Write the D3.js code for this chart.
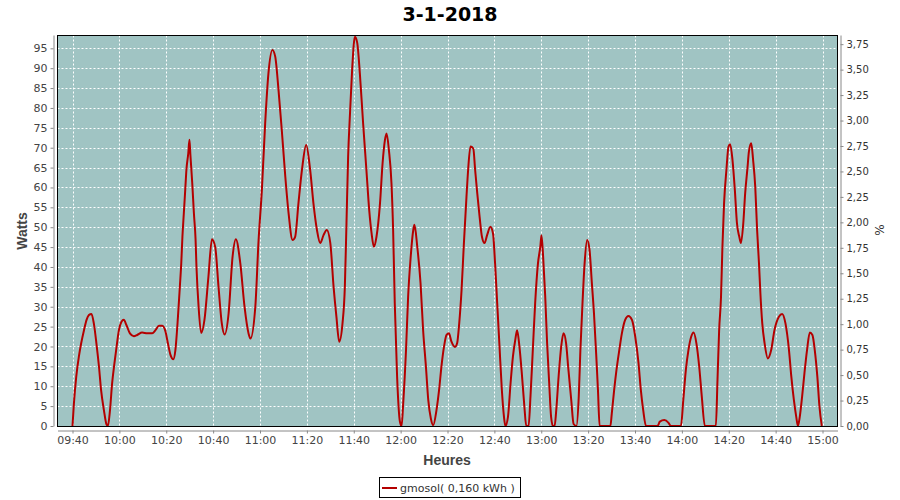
<!DOCTYPE html>
<html>
<head>
<meta charset="utf-8">
<script src="https://cdn.jsdelivr.net/npm/d3@7"></script>
<style>
  html, body { margin: 0; padding: 0; background: #fff; }
  svg { display: block; font-family: "DejaVu Sans", sans-serif; }
</style>
</head>
<body>
<svg id="chart" width="900" height="500"></svg>
<script>
const title = "3-1-2018";
const seriesName = "gmosol( 0,160 kWh )";
const xTitle = "Heures";
const yTitle = "Watts";
const y2Title = "%";
const day = "2018-01-03";

const times = [
  "09:40:00","09:40:36","09:41:36","09:42:42","09:43:42","09:44:54","09:46:00","09:47:00","09:48:06","09:49:06",
  "09:50:12","09:51:18","09:52:12","09:53:24","09:54:30","09:55:06","09:56:00","09:56:54","09:57:54","09:58:48",
  "09:59:48","10:00:54","10:01:54","10:03:00","10:04:30","10:06:12","10:07:36","10:09:42","10:11:54","10:14:00",
  "10:15:24","10:16:54","10:18:18","10:19:42","10:20:42","10:21:48","10:23:00","10:23:54","10:25:00","10:25:48",
  "10:26:24","10:26:54","10:27:30","10:28:06","10:28:36","10:29:24","10:29:54","10:30:18","10:31:06","10:31:48",
  "10:32:30","10:32:54","10:33:48","10:34:54","10:36:18","10:38:00","10:39:30","10:40:54","10:42:18","10:43:42",
  "10:44:54","10:46:36","10:48:18","10:49:42","10:51:36","10:53:24","10:55:06","10:55:54","10:58:00","10:59:24",
  "11:00:48","11:02:12","11:03:36","11:05:18","11:06:30","11:07:54","11:09:18","11:10:48","11:12:12","11:13:54",
  "11:15:00","11:16:24","11:17:54","11:19:42","11:21:24","11:22:48","11:24:18","11:25:42","11:27:06","11:28:30",
  "11:30:00","11:31:24","11:32:36","11:33:48","11:35:12","11:36:12","11:36:54","11:37:36","11:38:24","11:39:18",
  "11:40:30","11:41:30","11:42:36","11:44:00","11:45:24","11:46:36","11:47:36","11:48:36","11:49:42","11:51:12",
  "11:52:18","11:53:18","11:54:00","11:55:00","11:56:06","11:56:48","11:57:30","11:58:30","11:59:42","12:00:24",
  "12:01:06","12:02:18","12:03:12","12:04:12","12:05:24","12:05:54","12:07:06","12:08:30","12:09:36","12:10:48",
  "12:11:48","12:12:54","12:13:54","12:15:18","12:16:24","12:17:24","12:18:30","12:19:36","12:20:36","12:21:42",
  "12:23:12","12:24:06","12:25:00","12:26:00","12:27:00","12:28:06","12:28:48","12:29:48","12:31:00","12:31:48",
  "12:32:42","12:33:42","12:34:42","12:35:48","12:36:54","12:38:18","12:39:24","12:40:18","12:41:12","12:42:12",
  "12:43:12","12:44:06","12:44:42","12:45:48","12:46:54","12:47:54","12:48:54","12:49:42","12:50:42","12:51:42",
  "12:52:48","12:53:36","12:54:36","12:55:24","12:56:24","12:57:24","12:58:36","12:59:36","13:00:06","13:00:48",
  "13:01:42","13:02:30","13:03:24","13:04:12","13:05:00","13:05:42","13:06:24","13:07:24","13:08:30","13:09:30",
  "13:10:36","13:11:36","13:12:48","13:13:48","13:15:00","13:16:00","13:16:42","13:17:36","13:18:30","13:19:36",
  "13:20:36","13:21:36","13:22:30","13:23:30","13:24:12","13:24:54","13:29:30","13:30:06","13:31:06","13:32:06",
  "13:33:18","13:34:24","13:35:48","13:37:12","13:38:42","13:40:06","13:41:30","13:42:30","13:43:30","13:44:42",
  "13:49:36","13:50:36","13:52:30","13:54:18","13:55:18","13:59:36","14:00:36","14:01:42","14:02:48","14:04:00",
  "14:05:00","14:06:12","14:07:24","14:08:30","14:09:48","14:14:30","14:15:12","14:15:54","14:16:42","14:17:18",
  "14:18:00","14:19:00","14:19:54","14:20:36","14:21:36","14:22:36","14:23:30","14:24:30","14:25:12","14:26:12",
  "14:27:00","14:28:00","14:28:36","14:29:36","14:30:24","14:31:18","14:32:06","14:32:54","14:33:30","14:34:18",
  "14:35:18","14:36:42","14:38:06","14:39:30","14:41:24","14:42:48","14:44:12","14:45:42","14:46:42","14:47:48",
  "14:48:48","14:49:30","14:50:18","14:51:18","14:52:18","14:53:24","14:54:36","14:55:42","14:56:42","14:57:48",
  "14:58:42","14:59:42"
];

const watts = [
  0,5.7,12.4,17.4,20.8,24.1,26.7,27.9,28.2,25.8,
  20.8,14.9,9,4,0.4,0,4,10.7,15.8,19.9,
  24.1,26.2,26.7,25.4,23.3,22.6,22.9,23.5,23.3,23.3,
  24.1,25.2,25.2,23.7,20.8,17.9,16.8,19.1,27.5,35,
  40.9,47.6,53.5,59.4,64.4,68.6,72,68.2,61,53.5,
  47,40,30,23.4,26.7,37.6,47,45,35,25.8,
  23,28.3,42.6,47,40.9,30,23.3,22,30,46.8,
  59.4,76.1,88.7,94.6,92.9,84.5,74.4,62.7,53.5,46.8,
  47.6,56,64.4,70.7,64.4,56,49.3,46,48,49.3,
  46,35,27.5,21.2,25.8,35,51,67.7,78.6,89.5,
  97.9,96.3,88.7,76.1,64.4,54.3,48.5,45.1,47.6,56,
  66.1,71.9,73.6,69.4,61,49.3,30.9,12.4,1.1,0,
  5.7,19.1,32.5,41.8,49.3,50.6,45.1,35.9,24.1,14.9,
  6.5,1.9,0.2,4,9,14.9,19.9,22.9,23.3,21.2,
  19.9,20.8,25.8,34.2,46,57.7,64.4,70.3,69.8,64.4,
  58.5,52.6,47.6,46,48,50.1,48.5,40.9,30.9,19.9,
  9,2.3,0,2.3,10.7,17.4,21.6,24.1,19.9,13.3,
  4.9,0,0,7.4,19.1,30.9,40.9,45.1,48,42.6,
  32.5,20.8,10.7,2.3,0,0,4,12.4,19.9,23.3,
  20.8,14.1,6.5,0.5,0,7.4,19.1,30.9,40.9,46.8,
  44.3,35.9,28.3,17.4,9,0,0,3.2,9,14.1,
  19.1,23.3,26.7,27.7,26.7,22.5,15.8,9,4,0,
  0,1.1,1.5,0.8,0,0,6.5,14.1,19.1,22.5,
  23.5,20.8,14.9,7.4,0,0,11.6,24.1,32.5,45.1,
  56,64.4,70.3,70.9,66.9,59.4,51,47.6,46,51,
  58.5,65,69,71.1,66.9,60.2,49.3,40.9,33.4,25.8,
  20.8,17,19.1,24.1,27.5,28.2,25.8,19.1,12.4,6.5,
  2.3,0,2.3,7.4,13.3,19.1,23.5,22.9,19.1,12.4,
  4.9,0
];

const xTickLabels = ["09:40","10:00","10:20","10:40","11:00","11:20","11:40","12:00","12:20","12:40",
  "13:00","13:20","13:40","14:00","14:20","14:40","15:00"];
const yTickValues = [0,5,10,15,20,25,30,35,40,45,50,55,60,65,70,75,80,85,90,95];
const y2TickValues = [0,0.25,0.5,0.75,1,1.25,1.5,1.75,2,2.25,2.5,2.75,3,3.25,3.5,3.75];
const xDomain = ["09:33:36","15:06:24"];
const yMax = 98.35;
const y2Max = 3.84;

const parse = d3.timeParse("%Y-%m-%d %H:%M:%S");
const parseHM = d3.timeParse("%Y-%m-%d %H:%M");
const data = times.map((t, i) => ({ t: parse(day + " " + t), v: watts[i] }));

const plot = { left: 57.5, right: 837.5, top: 35.5, bottom: 426.5 };
const svg = d3.select("#chart");

const x = d3.scaleTime()
  .domain(xDomain.map(t => parse(day + " " + t)))
  .range([plot.left, plot.right]);
const y = d3.scaleLinear().domain([0, yMax]).range([plot.bottom - 0.5, plot.top - 0.5]);
const y2 = d3.scaleLinear().domain([0, y2Max]).range([plot.bottom - 0.5, plot.top - 0.5]);

const xTicks = xTickLabels.map(s => parseHM(day + " " + s));

// plot background
svg.append("rect")
  .attr("x", plot.left).attr("y", plot.top)
  .attr("width", plot.right - plot.left).attr("height", plot.bottom - plot.top)
  .attr("fill", "#a0c4c3");

// grid
const grid = svg.append("g").attr("stroke", "#ffffff").attr("stroke-width", 1).attr("stroke-dasharray", "2,2");
grid.selectAll("line.v").data(xTicks).join("line")
  .attr("x1", d => Math.round(x(d)) + 0.5).attr("x2", d => Math.round(x(d)) + 0.5)
  .attr("y1", plot.top).attr("y2", plot.bottom);
grid.selectAll("line.h").data(yTickValues.filter(v => v > 0)).join("line")
  .attr("y1", d => Math.round(y(d)) + 0.5).attr("y2", d => Math.round(y(d)) + 0.5)
  .attr("x1", plot.left).attr("x2", plot.right);

// line
const line = d3.line().x(d => x(d.t)).y(d => y(d.v)).curve(d3.curveMonotoneX);
svg.append("path").datum(data)
  .attr("d", line)
  .attr("fill", "none")
  .attr("stroke", "#b40000")
  .attr("stroke-width", 2)
  .attr("stroke-linejoin", "round");

// plot border
svg.append("rect")
  .attr("x", plot.left).attr("y", plot.top)
  .attr("width", plot.right - plot.left).attr("height", plot.bottom - plot.top)
  .attr("fill", "none").attr("stroke", "#000").attr("stroke-width", 1);

function styleAxis(g) {
  g.selectAll(".domain").attr("stroke", "#888");
  g.selectAll(".tick line").attr("stroke", "#888");
  g.selectAll(".tick text").attr("fill", "#444").attr("font-size", "11px")
    .attr("font-family", "DejaVu Sans, sans-serif");
}

const fmtComma = v => d3.format(".2f")(v).replace(".", ",");

const gLeft = svg.append("g").attr("transform", "translate(53.5,0)")
  .call(d3.axisLeft(y).tickValues(yTickValues).tickSize(3).tickSizeOuter(0).tickPadding(3));
styleAxis(gLeft);

const gRight = svg.append("g").attr("transform", "translate(840.5,0)")
  .call(d3.axisRight(y2).tickValues(y2TickValues).tickFormat(fmtComma).tickSize(3).tickSizeOuter(0).tickPadding(3));
styleAxis(gRight);
gRight.selectAll(".tick text").attr("font-size", "10px").attr("fill", "#333");

const gBottom = svg.append("g").attr("transform", "translate(0,430.5)")
  .call(d3.axisBottom(x).tickValues(xTicks).tickFormat(d3.timeFormat("%H:%M")).tickSize(3).tickSizeOuter(0).tickPadding(3));
styleAxis(gBottom);

// title
svg.append("text").attr("x", 450).attr("y", 21).attr("text-anchor", "middle")
  .attr("font-size", "19px").attr("font-weight", "bold").attr("fill", "#000").text(title);

// axis titles
svg.append("text").attr("x", 447).attr("y", 465).attr("text-anchor", "middle")
  .attr("font-family", "Liberation Sans, Arial, sans-serif")
  .attr("font-size", "14px").attr("font-weight", "bold").attr("fill", "#444").text(xTitle);
svg.append("text").attr("transform", "translate(27,231) rotate(-90)").attr("text-anchor", "middle")
  .attr("font-family", "Liberation Sans, Arial, sans-serif")
  .attr("font-size", "14px").attr("font-weight", "bold").attr("fill", "#444").text(yTitle);
svg.append("text").attr("transform", "translate(884,230) rotate(-90)").attr("text-anchor", "middle")
  .attr("font-size", "12px").attr("fill", "#333").text(y2Title);

// legend
const lg = svg.append("g");
lg.append("rect").attr("x", 379.5).attr("y", 477.5).attr("width", 141).attr("height", 20)
  .attr("fill", "#fff").attr("stroke", "#000").attr("stroke-width", 1);
lg.append("line").attr("x1", 382).attr("x2", 397).attr("y1", 488).attr("y2", 488)
  .attr("stroke", "#b40000").attr("stroke-width", 2);
lg.append("text").attr("x", 400).attr("y", 492).attr("font-size", "11px").attr("fill", "#333").text(seriesName);
</script>
</body>
</html>
